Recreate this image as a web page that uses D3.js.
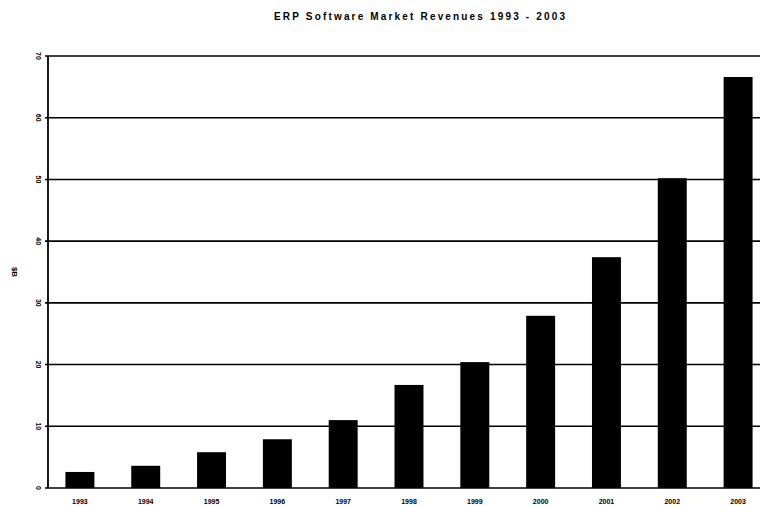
<!DOCTYPE html>
<html>
<head>
<meta charset="utf-8">
<script src="https://cdn.jsdelivr.net/npm/d3@7"></script>
<style>
body { margin: 0; background: #fff; }
text { font-family: Arial, "Liberation Sans", sans-serif; fill: #000; }
</style>
</head>
<body>
<div id="chart"></div>
<script>
var w = 760;
var h = 506;

var years = ["1993", "1994", "1995", "1996", "1997", "1998", "1999", "2000", "2001", "2002", "2003"];
var revenue = [2.6, 3.6, 5.8, 7.9, 11, 16.7, 20.4, 27.9, 37.4, 50.2, 66.6];
var yTicks = [0, 10, 20, 30, 40, 50, 60, 70];

var margin = {top: 56, bottom: 18, left: 48};

var svg = d3.select("#chart")
	.append("svg")
	.attr("width", w)
	.attr("height", h);

// the scan is cropped on the right, so the last band runs past the edge
var x = d3.scaleBand()
	.domain(years)
	.range([47, 771])
	.paddingInner(0.56)
	.paddingOuter(0.28);

var y = d3.scaleLinear()
	.domain([0, 70])
	.range([h - margin.bottom, margin.top]);

// gridlines
svg.append("g")
	.selectAll("line")
	.data(yTicks)
	.enter().append("line")
	.attr("x1", margin.left - 3)
	.attr("x2", w)
	.attr("y1", function(d) { return y(d); })
	.attr("y2", function(d) { return y(d); })
	.attr("stroke", "#000")
	.attr("stroke-width", 1.6);

// left axis line
svg.append("line")
	.attr("x1", margin.left).attr("x2", margin.left)
	.attr("y1", y(70)).attr("y2", y(0))
	.attr("stroke", "#000")
	.attr("stroke-width", 1.8);

// tick labels, rotated like the scan
svg.append("g")
	.selectAll("text")
	.data(yTicks)
	.enter().append("text")
	.attr("transform", function(d) { return "translate(36," + y(d) + ") rotate(90)"; })
	.attr("text-anchor", "middle")
	.attr("font-size", 7)
	.attr("font-weight", "bold")
	.text(function(d) { return d; });

svg.append("text")
	.attr("transform", "translate(12," + 272 + ") rotate(90)")
	.attr("text-anchor", "middle")
	.attr("font-size", 8)
	.attr("font-weight", "bold")
	.text("$B");

// bars
svg.append("g")
	.selectAll("rect")
	.data(revenue)
	.enter().append("rect")
	.attr("x", function(d, i) { return x(years[i]); })
	.attr("y", function(d) { return y(d); })
	.attr("width", x.bandwidth())
	.attr("height", function(d) { return y(0) - y(d); })
	.attr("fill", "#000");

// x labels
svg.append("g")
	.selectAll("text")
	.data(years)
	.enter().append("text")
	.attr("x", function(d) { return x(d) + x.bandwidth() / 2; })
	.attr("y", 504)
	.attr("text-anchor", "middle")
	.attr("font-size", 7)
	.attr("font-weight", "bold")
	.text(function(d) { return d; });

svg.append("text")
	.attr("x", 274)
	.attr("y", 20)
	.attr("font-size", 10)
	.attr("font-weight", "bold")
	.attr("textLength", 291)
	.attr("lengthAdjust", "spacing")
	.text("ERP Software Market Revenues   1993 - 2003");
</script>
</body>
</html>
